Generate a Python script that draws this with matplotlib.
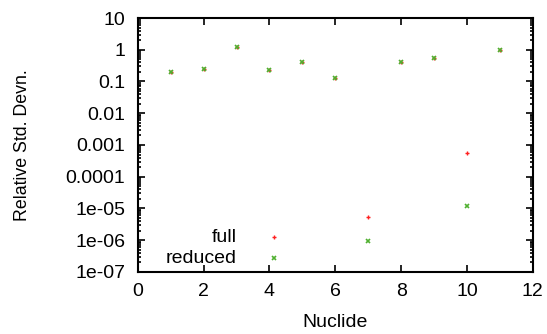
import numpy as np
import matplotlib
matplotlib.use('Agg')
import matplotlib.pyplot as plt
from matplotlib.ticker import LogLocator, FixedLocator, NullFormatter

plt.rcParams['font.family'] = ['Liberation Sans', 'DejaVu Sans']

# data
nuclide = [1, 2, 3, 4, 5, 6, 7, 8, 9, 10, 11]
full = [0.2, 0.245, 1.18, 0.23, 0.42, 0.13, 5.4e-6, 0.42, 0.57, 5.4e-4, 0.95]
reduced = [0.2, 0.245, 1.18, 0.23, 0.42, 0.13, 9.3e-7, 0.42, 0.57, 1.15e-5, 0.95]

ytick_vals = [1e-7, 1e-6, 1e-5, 1e-4, 1e-3, 1e-2, 1e-1, 1, 10]
ytick_labels = ['1e-07', '1e-06', '1e-05', '0.0001', '0.001', '0.01', '0.1', '1', '10']

fig = plt.figure(figsize=(5.47, 3.34), dpi=100)
ax = fig.add_axes([0.252, 0.186, 0.722, 0.760])

ax.plot(nuclide, full, linestyle='none', marker='+', color='#ff2020', markersize=3.5, markeredgewidth=1.0, zorder=3)
ax.plot(nuclide, reduced, linestyle='none', marker='x', color='#50b030', markersize=3.5, markeredgewidth=1.2, zorder=3)

ax.set_yscale('log')
ax.set_xlim(0, 12)
ax.set_ylim(1e-7, 10)
ax.set_xticks(range(0, 13, 2))
ax.yaxis.set_major_locator(FixedLocator(ytick_vals))
ax.set_yticklabels(ytick_labels)
ax.yaxis.set_minor_locator(LogLocator(base=10, subs=np.arange(2, 10), numticks=20))
ax.yaxis.set_minor_formatter(NullFormatter())

ax.tick_params(which='both', direction='in', top=True, right=True, labelsize=14, width=1.2)
ax.tick_params(which='major', length=5)
ax.tick_params(which='minor', length=2.5)
ax.tick_params(axis='y', which='major', pad=9)
ax.tick_params(axis='x', which='major', pad=8)
for s in ax.spines.values():
    s.set_linewidth(1.5)

ax.set_xlabel('Nuclide', fontsize=14, labelpad=10)
ax.set_ylabel('Relative Std. Devn.', fontsize=12.8, labelpad=25)

# gnuplot style key, bottom left
key_x = 4.13
key_text_x = 3.0
ax.plot([key_x], [1.25e-6], linestyle='none', marker='+', color='#ff2020', markersize=3.5, markeredgewidth=1.0)
ax.plot([key_x], [2.7e-7], linestyle='none', marker='x', color='#50b030', markersize=3.5, markeredgewidth=1.2)
ax.text(key_text_x, 1.25e-6, 'full', ha='right', va='center', fontsize=14)
ax.text(key_text_x, 2.7e-7, 'reduced', ha='right', va='center', fontsize=14)

fig.savefig('out.png', dpi=100)
